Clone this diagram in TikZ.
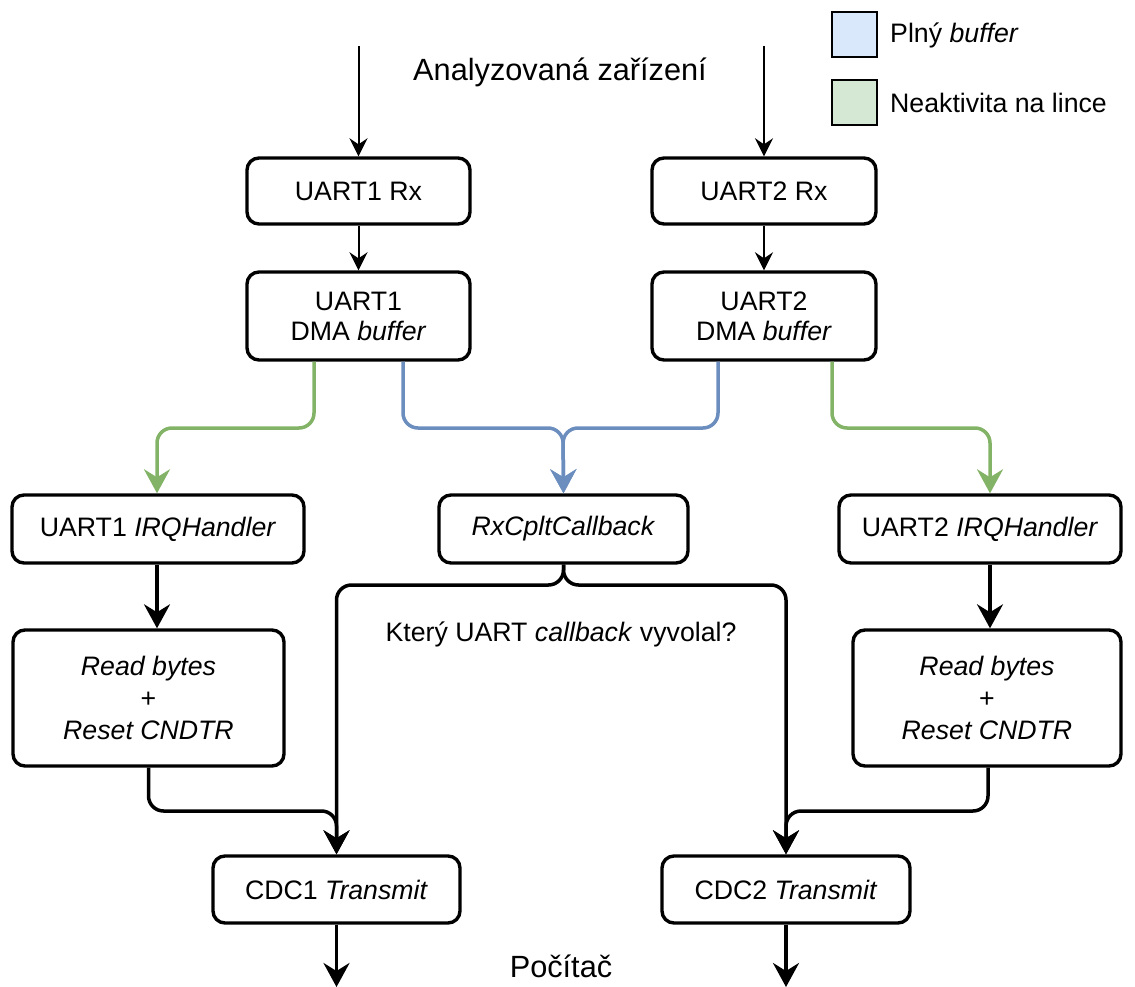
\documentclass[tikz,border=0pt]{standalone}
\usepackage{fontspec}
\setmainfont{Liberation Sans}
\usetikzlibrary{arrows.meta}
\definecolor{blueedge}{HTML}{6C8EBF}
\definecolor{greenedge}{HTML}{82B366}
\definecolor{bluefill}{HTML}{DAE8FC}
\definecolor{greenfill}{HTML}{D5E8D4}

\begin{document}
\begin{tikzpicture}[x=1pt,y=-1pt,
  box/.style={draw, line width=3.4pt, rounded corners=12pt, inner sep=0pt,
    align=center, font=\fontsize{26.7}{30}\selectfont},
  tallbox/.style={box, font=\fontsize{26.7}{32}\selectfont},
  title/.style={font=\fontsize{30.7}{36}\selectfont, inner sep=0pt},
  legtext/.style={anchor=west, inner sep=0pt, font=\fontsize{26.7}{30}\selectfont},
  legbox/.style={draw, line width=2pt, minimum size=45pt, inner sep=0pt},
  thinarrow/.style={line width=2pt, -{Stealth[length=18pt,width=18pt,inset=6pt]}},
  flow/.style={line width=3.5pt, rounded corners=15pt,
    -{Stealth[length=24pt,width=26pt,inset=8pt]}},
  fullbuf/.style={flow, draw=blueedge},
  idleline/.style={flow, draw=greenedge}
]
\useasboundingbox (0,0) rectangle (1135,987);

% --- boxes ---
\node[box, minimum width=223pt, minimum height=66pt] (rx1) at (358.5,191) {UART1 Rx};
\node[box, minimum width=224pt, minimum height=66pt] (rx2) at (764,191) {UART2 Rx};
\node[box, minimum width=223pt, minimum height=88pt] (dma1) at (358.5,316) {UART1\\DMA \textit{buffer}};
\node[box, minimum width=224pt, minimum height=88pt] (dma2) at (764,316) {UART2\\DMA \textit{buffer}};
\node[box, minimum width=292pt, minimum height=68pt] (irq1) at (158,529) {UART1 \textit{IRQHandler}};
\node[box, minimum width=249pt, minimum height=68pt] (cb) at (563.5,529) {\textit{RxCpltCallback}};
\node[box, minimum width=282pt, minimum height=68pt] (irq2) at (980,529) {UART2 \textit{IRQHandler}};
\node[tallbox, minimum width=271pt, minimum height=136pt] (rd1) at (148.5,698) {\textit{Read bytes}\\+\\\textit{Reset CNDTR}};
\node[tallbox, minimum width=268pt, minimum height=136pt] (rd2) at (987,698) {\textit{Read bytes}\\+\\\textit{Reset CNDTR}};
\node[box, minimum width=247pt, minimum height=67pt] (cdc1) at (336.5,889.5) {CDC1 \textit{Transmit}};
\node[box, minimum width=248pt, minimum height=67pt] (cdc2) at (786,889.5) {CDC2 \textit{Transmit}};

% --- free labels ---
\node[title] (src) at (560,72) {Analyzovaná zařízení};
\node[title] (pc) at (561,966) {Počítač};
\node[inner sep=0pt, font=\fontsize{26.7}{30}\selectfont] (which) at (561,634) {Který UART \textit{callback} vyvolal?};

% --- legend ---
\node[legbox, fill=bluefill] (lgb) at (854,34.5) {};
\node[legtext] (lgbt) at (890,35) {Plný \textit{buffer}};
\node[legbox, fill=greenfill] (lgg) at (854,102.5) {};
\node[legtext] (lggt) at (890,103) {Neaktivita na lince};

% --- connector end points ---
\coordinate (in1) at (358.5,46);
\coordinate (in2) at (764,46);
\coordinate (out1) at (336.5,987);
\coordinate (out2) at (786,987);

% --- inputs ---
\draw[thinarrow] (in1) -- (rx1.north);
\draw[thinarrow] (in2) -- (rx2.north);
\draw[thinarrow] (rx1.south) -- (dma1.north);
\draw[thinarrow] (rx2.south) -- (dma2.north);

% --- DMA events ---
\draw[idleline] (dma1.south -| 314,0) -- (314,428) -- (157,428) -- (irq1.north -| 157,0);
\draw[fullbuf] (dma1.south -| 403,0) -- (403,428) -- (563,428) -- (cb.north);
\draw[fullbuf] (dma2.south -| 718,0) -- (718,428) -- (563,428) -- (cb.north);
\draw[idleline] (dma2.south -| 832,0) -- (832,428) -- (990,428) -- (irq2.north -| 990,0);

% --- handlers ---
\draw[flow] (irq1.south -| 157,0) -- (rd1.north -| 157,0);
\draw[flow] (irq2.south -| 990,0) -- (rd2.north -| 990,0);
\draw[flow] (cb.south) -- (563.5,585) -- (336.5,585) -- (cdc1.north);
\draw[flow] (cb.south) -- (563.5,585) -- (786,585) -- (cdc2.north);
\draw[flow] (rd1.south) -- (148.5,811) -- (336.5,811) -- (cdc1.north);
\draw[flow] (rd2.south -| 988,0) -- (988,811) -- (786,811) -- (cdc2.north);

% --- outputs ---
\draw[flow] (cdc1.south) -- (out1);
\draw[flow] (cdc2.south) -- (out2);
\end{tikzpicture}
\end{document}
